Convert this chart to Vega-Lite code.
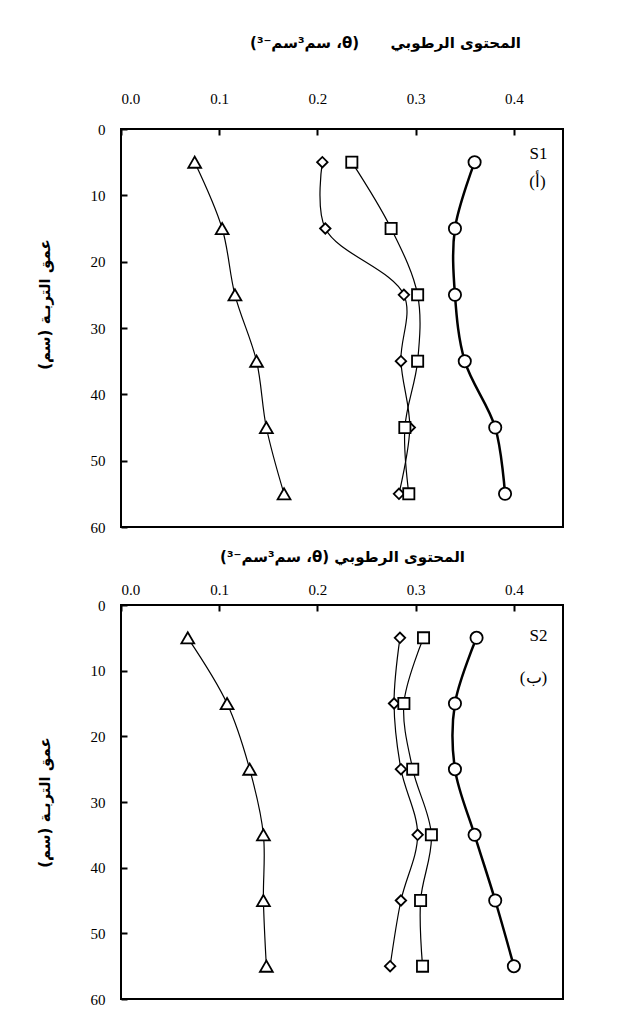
{
  "$schema": "https://vega.github.io/schema/vega-lite/v6.json",
  "padding": {"left": 36, "top": 34, "right": 5, "bottom": 5},
  "spacing": 12,
  "config": {
    "view": {"stroke": "black", "strokeWidth": 2},
    "font": "Liberation Serif",
    "style": {"guide-label": {"font": "Liberation Serif", "fontWeight": "normal"}},
    "axis": {"grid": false, "domain": false, "tickColor": "black", "tickWidth": 2, "tickSize": -6, "labelColor": "black", "labelFontSize": 15, "labelFont": "Liberation Serif", "labelFontWeight": "normal", "titleColor": "black", "titleFont": "DejaVu Sans", "titleFontSize": 15, "titleFontWeight": "bold"}
  },
  "datasets": {
    "s1": [
      {"series": "tri", "depth": 5, "theta": 0.075}, {"series": "tri", "depth": 15, "theta": 0.103}, {"series": "tri", "depth": 25, "theta": 0.116}, {"series": "tri", "depth": 35, "theta": 0.138}, {"series": "tri", "depth": 45, "theta": 0.148}, {"series": "tri", "depth": 55, "theta": 0.166},
      {"series": "dia", "depth": 5, "theta": 0.205}, {"series": "dia", "depth": 15, "theta": 0.208}, {"series": "dia", "depth": 25, "theta": 0.288}, {"series": "dia", "depth": 35, "theta": 0.285}, {"series": "dia", "depth": 45, "theta": 0.294}, {"series": "dia", "depth": 55, "theta": 0.283},
      {"series": "sq", "depth": 5, "theta": 0.235}, {"series": "sq", "depth": 15, "theta": 0.275}, {"series": "sq", "depth": 25, "theta": 0.302}, {"series": "sq", "depth": 35, "theta": 0.302}, {"series": "sq", "depth": 45, "theta": 0.289}, {"series": "sq", "depth": 55, "theta": 0.293},
      {"series": "cir", "depth": 5, "theta": 0.360}, {"series": "cir", "depth": 15, "theta": 0.340}, {"series": "cir", "depth": 25, "theta": 0.340}, {"series": "cir", "depth": 35, "theta": 0.350}, {"series": "cir", "depth": 45, "theta": 0.381}, {"series": "cir", "depth": 55, "theta": 0.391}
    ],
    "s2": [
      {"series": "tri", "depth": 5, "theta": 0.068}, {"series": "tri", "depth": 15, "theta": 0.108}, {"series": "tri", "depth": 25, "theta": 0.131}, {"series": "tri", "depth": 35, "theta": 0.145}, {"series": "tri", "depth": 45, "theta": 0.145}, {"series": "tri", "depth": 55, "theta": 0.148},
      {"series": "dia", "depth": 5, "theta": 0.284}, {"series": "dia", "depth": 15, "theta": 0.278}, {"series": "dia", "depth": 25, "theta": 0.285}, {"series": "dia", "depth": 35, "theta": 0.302}, {"series": "dia", "depth": 45, "theta": 0.285}, {"series": "dia", "depth": 55, "theta": 0.274},
      {"series": "sq", "depth": 5, "theta": 0.308}, {"series": "sq", "depth": 15, "theta": 0.288}, {"series": "sq", "depth": 25, "theta": 0.297}, {"series": "sq", "depth": 35, "theta": 0.316}, {"series": "sq", "depth": 45, "theta": 0.305}, {"series": "sq", "depth": 55, "theta": 0.307},
      {"series": "cir", "depth": 5, "theta": 0.362}, {"series": "cir", "depth": 15, "theta": 0.340}, {"series": "cir", "depth": 25, "theta": 0.340}, {"series": "cir", "depth": 35, "theta": 0.360}, {"series": "cir", "depth": 45, "theta": 0.381}, {"series": "cir", "depth": 55, "theta": 0.400}
    ],
    "l1": [{"theta": 0.425, "depth": 3.8, "label": "S1"}, {"theta": 0.424, "depth": 8, "label": "\u200e(أ)\u200e"}],
    "l2": [{"theta": 0.425, "depth": 4.7, "label": "S2"}, {"theta": 0.42, "depth": 11.1, "label": "\u200e(ب)\u200e"}]
  },
  "vconcat": [
    {
      "width": 442,
      "height": 398,
      "encoding": {
        "x": {"field": "theta", "type": "quantitative", "scale": {"domain": [0, 0.45], "nice": false, "zero": false},
          "axis": {"orient": "top", "values": [0, 0.1, 0.2, 0.3, 0.4], "format": ".1f", "labelPadding": 29, "labelFont": "Liberation Serif", "labelFontWeight": "normal",
            "title": "\u202bالمحتوى الرطوبي\u00a0\u00a0\u00a0\u00a0\u00a0\u00a0(θ، سم³سم⁻³)\u202c", "titleX": 264, "titleY": -87, "titleBaseline": "middle"}},
        "y": {"field": "depth", "type": "quantitative", "scale": {"domain": [0, 60], "reverse": true, "nice": false, "zero": false},
          "axis": {"values": [0, 10, 20, 30, 40, 50, 60], "labelPadding": 22, "labelFont": "Liberation Serif", "labelFontWeight": "normal", "title": "\u202bعمق التربـة (سم)\u202c", "titleX": -77, "titleY": 175, "titleBaseline": "middle", "titleAngle": -90}}
      },
      "layer": [
        {"data": {"name": "s1"}, "mark": {"type": "line", "interpolate": "catmull-rom", "color": "black"},
          "encoding": {"detail": {"field": "series"}, "order": {"field": "depth", "type": "quantitative"},
            "strokeWidth": {"condition": {"test": "datum.series === 'cir'", "value": 2.5}, "value": 1.2}}},
        {"data": {"name": "s1"}, "mark": {"type": "point", "filled": false, "fill": "white", "fillOpacity": 1, "stroke": "black", "strokeWidth": 1.8, "opacity": 1},
          "encoding": {
            "shape": {"field": "series", "type": "nominal", "scale": {"domain": ["tri", "dia", "sq", "cir"], "range": ["triangle-up", "diamond", "square", "circle"]}, "legend": null},
            "size": {"condition": [{"test": "datum.series === 'tri'", "value": 165}, {"test": "datum.series === 'dia'", "value": 110}, {"test": "datum.series === 'sq'", "value": 125}], "value": 150}}},
        {"data": {"name": "l1"}, "mark": {"type": "text", "fontSize": 17, "color": "black", "font": "Liberation Serif"},
          "encoding": {"text": {"field": "label"}}}
      ]
    },
    {
      "width": 442,
      "height": 394,
      "encoding": {
        "x": {"field": "theta", "type": "quantitative", "scale": {"domain": [0, 0.45], "nice": false, "zero": false},
          "axis": {"orient": "top", "values": [0, 0.1, 0.2, 0.3, 0.4], "format": ".1f", "labelPadding": 14, "labelFont": "Liberation Serif", "labelFontWeight": "normal",
            "title": "\u202bالمحتوى الرطوبي (θ، سم³سم⁻³)\u202c", "titleY": -49, "titleBaseline": "middle"}},
        "y": {"field": "depth", "type": "quantitative", "scale": {"domain": [0, 60], "reverse": true, "nice": false, "zero": false},
          "axis": {"values": [0, 10, 20, 30, 40, 50, 60], "labelPadding": 22, "labelFont": "Liberation Serif", "labelFontWeight": "normal", "title": "\u202bعمق التربـة (سم)\u202c", "titleX": -77, "titleY": 197, "titleBaseline": "middle", "titleAngle": -90}}
      },
      "layer": [
        {"data": {"name": "s2"}, "mark": {"type": "line", "interpolate": "catmull-rom", "color": "black"},
          "encoding": {"detail": {"field": "series"}, "order": {"field": "depth", "type": "quantitative"},
            "strokeWidth": {"condition": {"test": "datum.series === 'cir'", "value": 2.5}, "value": 1.2}}},
        {"data": {"name": "s2"}, "mark": {"type": "point", "filled": false, "fill": "white", "fillOpacity": 1, "stroke": "black", "strokeWidth": 1.8, "opacity": 1},
          "encoding": {
            "shape": {"field": "series", "type": "nominal", "scale": {"domain": ["tri", "dia", "sq", "cir"], "range": ["triangle-up", "diamond", "square", "circle"]}, "legend": null},
            "size": {"condition": [{"test": "datum.series === 'tri'", "value": 165}, {"test": "datum.series === 'dia'", "value": 110}, {"test": "datum.series === 'sq'", "value": 125}], "value": 150}}},
        {"data": {"name": "l2"}, "mark": {"type": "text", "fontSize": 17, "color": "black", "font": "Liberation Serif"},
          "encoding": {"text": {"field": "label"}}}
      ]
    }
  ]
}
